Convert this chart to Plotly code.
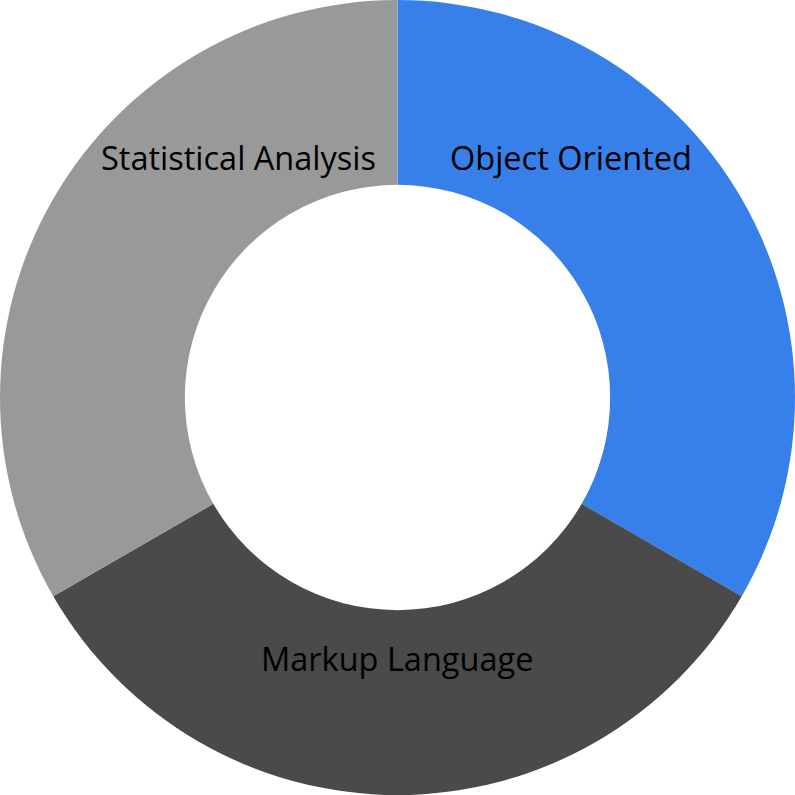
import plotly.graph_objects as go

categories = ["Object Oriented", "Markup Language", "Statistical Analysis"]
values = [1, 1, 1]
colors = ["#377FE9", "#4A4A4A", "#999999"]

# label anchor positions (paper fraction) for each category
label_x = [0.7182, 0.4994, 0.2994]
label_y = [0.8025, 0.1723, 0.8025]

fig = go.Figure(go.Pie(
    labels=categories,
    values=values,
    hole=0.535,
    sort=False,
    direction="clockwise",
    rotation=0,
    marker=dict(colors=colors, line=dict(width=0)),
    textinfo="none",
    hoverinfo="label+percent",
))
for name, x, y in zip(categories, label_x, label_y):
    fig.add_annotation(
        text=name, x=x, y=y, xref="paper", yref="paper",
        xanchor="center", yanchor="middle", showarrow=False,
        font=dict(family="Open Sans", size=32.5, color="#000000"),
    )
fig.update_layout(
    width=795, height=795,
    margin=dict(l=0, r=0, t=0, b=0),
    showlegend=False,
    paper_bgcolor="white",
    plot_bgcolor="white",
)
fig.write_html("out.html", config={"displayModeBar": False},
               post_script="document.body.style.margin='0';")
